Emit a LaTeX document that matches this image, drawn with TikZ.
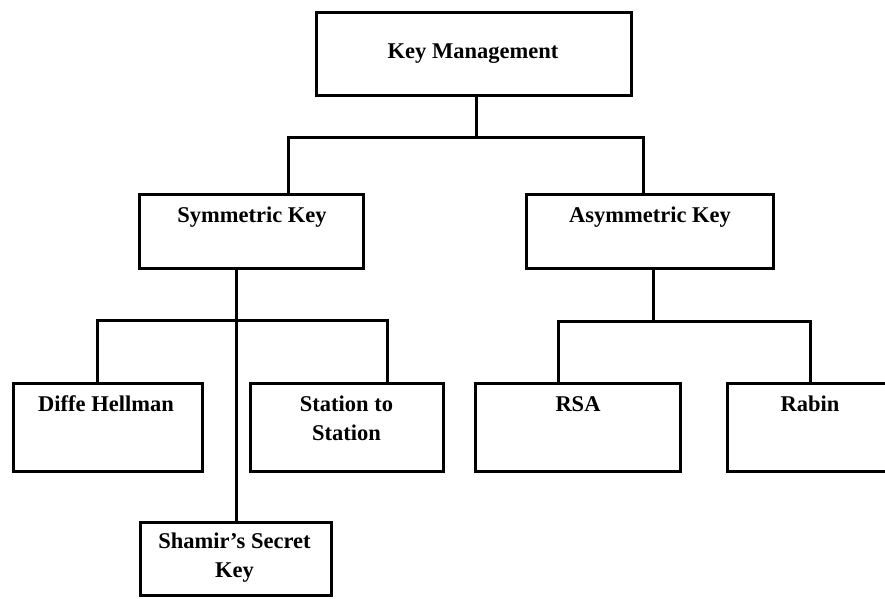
\documentclass[tikz,border=0pt]{standalone}
\usepackage{fontspec}
\setmainfont{Liberation Serif}
\begin{document}
\begin{tikzpicture}[x=1pt,y=-1pt,
  box/.style={draw,line width=3pt,inner sep=0pt,rectangle},
  lbl/.style={font=\fontsize{22.5}{28.5}\selectfont\bfseries,anchor=base,inner sep=0pt,align=center},
  conn/.style={line width=3pt,line join=miter}]
\useasboundingbox (0,0) rectangle (885,598);
\clip (0,0) rectangle (885,598);
\fill[white] (0,0) rectangle (885,598);
% boxes
\node[box,minimum width=315pt,minimum height=83pt] (km) at (473.5,53.5) {};
\node[box,minimum width=224pt,minimum height=74pt] (sym) at (251,231) {};
\node[box,minimum width=247pt,minimum height=74pt] (asym) at (649.5,231) {};
\node[box,minimum width=189pt,minimum height=88pt] (dh) at (107.5,427) {};
\node[box,minimum width=193pt,minimum height=88pt] (sts) at (346.5,427) {};
\node[box,minimum width=205pt,minimum height=88pt] (rsa) at (577.5,427) {};
\node[box,minimum width=180pt,minimum height=88pt] (rabin) at (817,427) {};
\node[box,minimum width=191pt,minimum height=73pt] (sham) at (235.5,558.5) {};
% labels
\node[lbl] (kmt) at (473,58) {Key Management};
\node[lbl] (symt) at (252,222) {Symmetric Key};
\node[lbl] (asymt) at (650,222) {Asymmetric Key};
\node[lbl] (dht) at (106,411) {Diffe Hellman};
\node[lbl,anchor=north] (stst) at (346.5,396) {Station to\\Station};
\node[lbl] (rsat) at (578,411) {RSA};
\node[lbl] (rabint) at (810,411) {Rabin};
\node[lbl,anchor=north] (shamt) at (234.5,533) {Shamir’s Secret\\Key};
% connectors
\coordinate (j0) at (476,137);
\coordinate (ja) at (288,137);
\coordinate (jb) at (643,137);
\draw[conn] (km.south -| j0) -- (j0);
\draw[conn] (sym.north -| ja) -- (ja) -- (jb) -- (asym.north -| jb);
\coordinate (s0) at (236,320);
\coordinate (sa) at (97,320);
\coordinate (sb) at (387,320);
\draw[conn] (sym.south -| s0) -- (sham.north -| s0);
\draw[conn] (dh.north -| sa) -- (sa) -- (sb) -- (sts.north -| sb);
\coordinate (a0) at (653,321);
\coordinate (aa) at (558,321);
\coordinate (ab) at (810,321);
\draw[conn] (asym.south -| a0) -- (a0);
\draw[conn] (rsa.north -| aa) -- (aa) -- (ab) -- (rabin.north -| ab);
\end{tikzpicture}
\end{document}
